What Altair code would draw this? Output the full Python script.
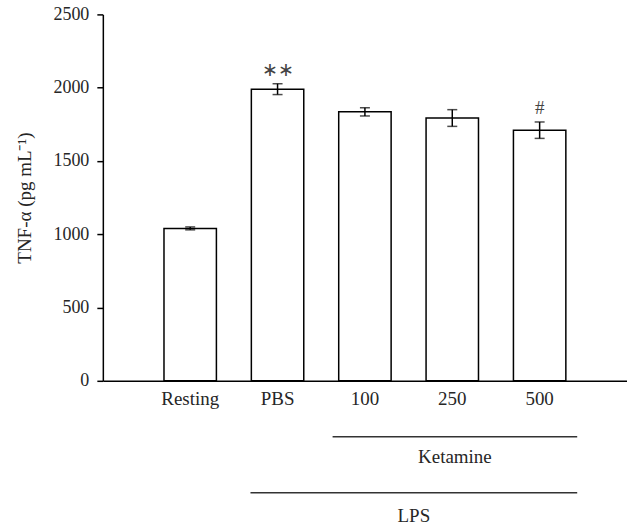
import altair as alt
import pandas as pd

groups = ["Resting", "PBS", "100", "250", "500"]
positions = [1, 2, 3, 4, 5]
means = [1040, 1990, 1835, 1793, 1710]
errors = [10, 37, 28, 57, 56]
marks_text = ["", "∗∗", "", "", "#"]

df = pd.DataFrame({"group": groups, "pos": positions, "mean": means, "err": errors, "sig": marks_text})
df["x0"] = df["pos"] - 0.3
df["x1"] = df["pos"] + 0.3
df["lo"] = df["mean"] - df["err"]
df["hi"] = df["mean"] + df["err"]

FONT = "Liberation Serif"
H = 367
TXT = "#262626"

xscale = alt.Scale(domain=[0, 6], nice=False, zero=False)
yscale = alt.Scale(domain=[0, 2500], nice=False)

bars = alt.Chart(df).mark_bar(fill="white", stroke="black", strokeWidth=1.5).encode(
    x=alt.X("x0:Q", scale=xscale, axis=alt.Axis(ticks=False, labels=False, grid=False, title=None,
                                                  domainColor="black", domainWidth=1.5, values=[])),
    x2="x1:Q",
    y=alt.Y("mean:Q", scale=yscale, axis=alt.Axis(values=[0, 500, 1000, 1500, 2000, 2500], grid=False,
                                                   format="d",
                                                   tickSize=6, tickColor="black", domainColor="black",
                                                   domainWidth=1.5, tickWidth=1.5, labelFont=FONT,
                                                   labelFontSize=18, labelColor=TXT, labelPadding=8,
                                                   title="TNF-α (pg mL⁻¹)", titleFont=FONT,
                                                   titleFontSize=19, titleFontWeight="normal",
                                                   titleColor=TXT, titlePadding=18)),
    y2=alt.datum(0),
)

err_rule = alt.Chart(df).mark_rule(color="black", strokeWidth=1.5).encode(
    x=alt.X("pos:Q", scale=xscale),
    y=alt.Y("lo:Q", scale=yscale),
    y2="hi:Q",
)
cap_lo = alt.Chart(df).mark_tick(color="black", size=10, thickness=1.5, orient="horizontal").encode(
    x=alt.X("pos:Q", scale=xscale),
    y=alt.Y("lo:Q", scale=yscale),
)
cap_hi = alt.Chart(df).mark_tick(color="black", size=10, thickness=1.5, orient="horizontal").encode(
    x=alt.X("pos:Q", scale=xscale),
    y=alt.Y("hi:Q", scale=yscale),
)

sig = alt.Chart(df).mark_text(font=FONT, fontSize=19, color="#444", baseline="bottom", dy=-4).encode(
    x=alt.X("pos:Q", scale=xscale),
    y=alt.Y("hi:Q", scale=yscale),
    text="sig:N",
)

labels = alt.Chart(df).mark_text(font=FONT, fontSize=19, color=TXT, baseline="alphabetic").encode(
    x=alt.X("pos:Q", scale=xscale),
    y=alt.value(H + 24),
    text="group:N",
)

brackets = pd.DataFrame({
    "name": ["Ketamine", "LPS"],
    "start": [2.63, 1.69],
    "end": [5.43, 5.43],
    "mid": [4.03, 3.56],
})

ket = brackets[brackets.name == "Ketamine"]
lps = brackets[brackets.name == "LPS"]
ket_line = alt.Chart(ket).mark_rule(color="#333", strokeWidth=1.5).encode(
    x=alt.X("start:Q", scale=xscale), x2="end:Q", y=alt.value(H + 56))
ket_text = alt.Chart(ket).mark_text(font=FONT, fontSize=19, color=TXT, baseline="alphabetic").encode(
    x=alt.X("mid:Q", scale=xscale), y=alt.value(H + 82), text="name:N")
lps_line = alt.Chart(lps).mark_rule(color="#333", strokeWidth=1.5).encode(
    x=alt.X("start:Q", scale=xscale), x2="end:Q", y=alt.value(H + 112))
lps_text = alt.Chart(lps).mark_text(font=FONT, fontSize=19, color=TXT, baseline="alphabetic").encode(
    x=alt.X("mid:Q", scale=xscale), y=alt.value(H + 141), text="name:N")

chart = alt.layer(bars, err_rule, cap_lo, cap_hi, sig, labels, ket_line, ket_text, lps_line, lps_text).properties(
    width=525, height=H,
    autosize=alt.AutoSizeParams(type="none"),
    padding={"left": 103, "top": 14, "right": 0, "bottom": 145},
).configure(background="white", view=alt.ViewConfig(strokeWidth=0), axis=alt.AxisConfig(grid=False))

chart.save("out.html", embed_options={"renderer": "svg", "actions": False})
